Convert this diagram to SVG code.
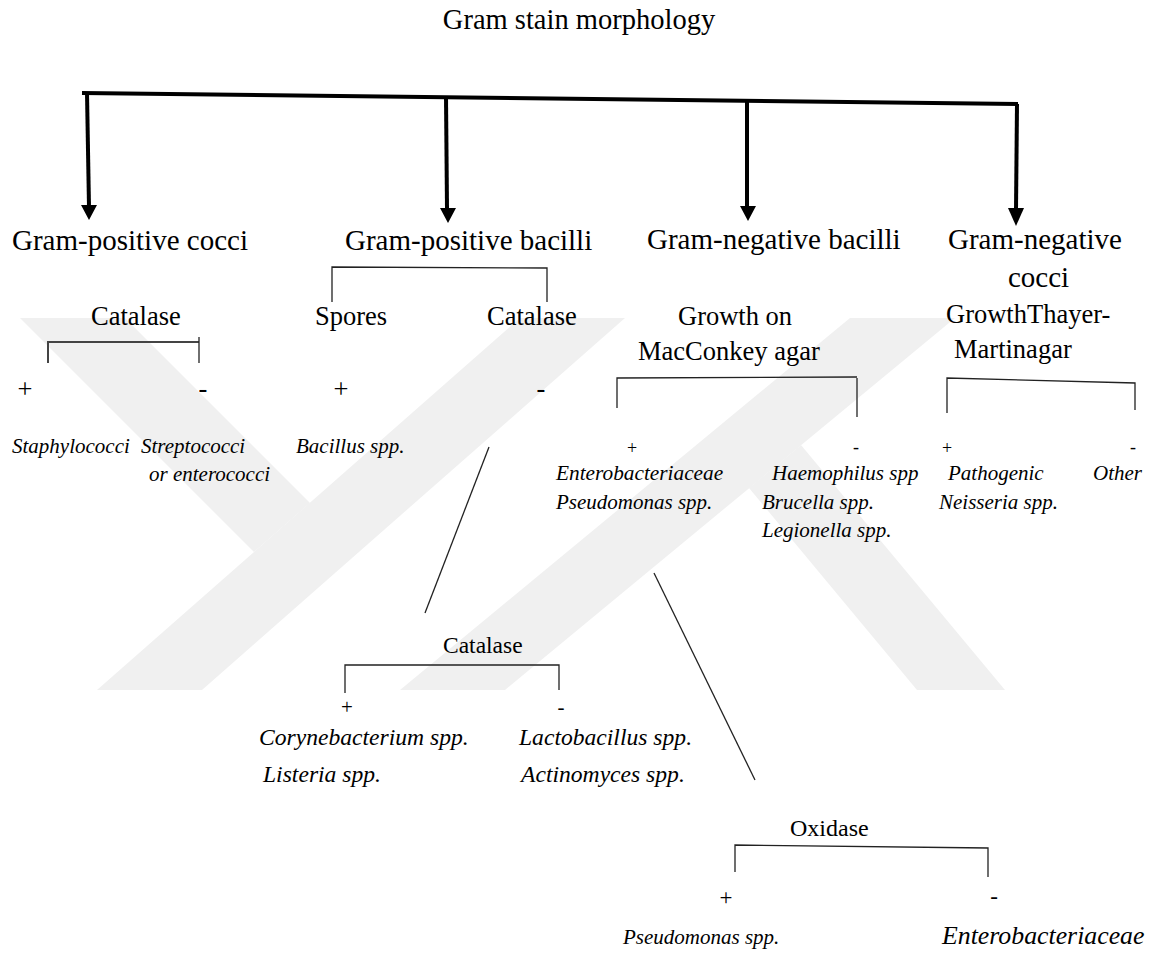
<svg xmlns="http://www.w3.org/2000/svg" width="1154" height="966" viewBox="0 0 1154 966">
<defs>
<style>
.t{font-family:"Liberation Serif","Times New Roman",serif;fill:#000}
.h1{font-size:29px}
.h2{font-size:26.5px}
.i{font-style:italic}
.m{text-anchor:middle}
.br{fill:none;stroke:#222;stroke-width:1.3}
.thick{fill:none;stroke:#000;stroke-width:4}
.wm{fill:#f0f0f0}
</style>
</defs>
<rect width="1154" height="966" fill="#fff"/>
<g id="watermark">
<polygon class="wm" points="520,318 625,318 202,690 97,690"/>
<polygon class="wm" points="20,318 125,318 310,503 254,552"/>
<polygon class="wm" points="850,318 955,318 505,690 400,690"/>
<polygon class="wm" points="801,445 1005,690 917,690 749,488"/>
</g>
<g id="connectors">
<path class="thick" d="M82,93 L1018,104"/>
<path class="thick" d="M87,93 L89,207"/>
<polygon points="81,205 97,205 89,220"/>
<path class="thick" d="M446,97 L447,209"/>
<polygon points="440,208 456,208 448,223"/>
<path class="thick" d="M747,100 L747,207"/>
<polygon points="740,206 756,206 748,221"/>
<path class="thick" d="M1017,104 L1016,210"/>
<polygon points="1008,208 1024,208 1016,226"/>
<path class="br" d="M332,302 V267 L547,268 V302"/>
<path d="M48,363 V342 H199" fill="none" stroke="#444" stroke-width="2"/>
<path class="br" d="M199,337 V363"/>
<path class="br" d="M617,408 V378 L857,377"/>
<path class="br" d="M857,378 V417"/>
<path class="br" d="M947,413 V378 L1135,383 V410"/>
<path class="br" d="M345,693 V665 H559 V690"/>
<path class="br" d="M735,872 V845 L988,848 V877"/>
<path class="br" d="M489,447 L425,613"/>
<path class="br" d="M654,573 L755,780"/>
</g>
<g id="title"><text class="t m" x="579" y="29" style="font-size:28.5px">Gram stain morphology</text></g>
<g id="gp-cocci">
<text class="t h1" x="12" y="250">Gram-positive cocci</text>
<text class="t h2" x="91" y="325">Catalase</text>
<text class="t h2 m" x="25" y="398">+</text>
<text class="t h2 m" x="203" y="397">-</text>
<text class="t i" x="12" y="453" style="font-size:21px">Staphylococci</text>
<text class="t i" x="141" y="453" style="font-size:21px">Streptococci</text>
<text class="t i" x="149" y="481" style="font-size:21px">or enterococci</text>
</g>
<g id="gp-bacilli">
<text class="t h1" x="345" y="250">Gram-positive bacilli</text>
<text class="t h2" x="315" y="325">Spores</text>
<text class="t h2" x="487" y="325">Catalase</text>
<text class="t h2 m" x="341" y="398">+</text>
<text class="t h2 m" x="541" y="397">-</text>
<text class="t i" x="296" y="453" style="font-size:21px">Bacillus spp.</text>
</g>
<g id="gp-bacilli-catalase">
<text class="t" x="443" y="653" style="font-size:23.5px">Catalase</text>
<text class="t m" x="347" y="714" style="font-size:21px">+</text>
<text class="t m" x="561" y="714" style="font-size:21px">-</text>
<text class="t i" x="259" y="745" style="font-size:23.6px">Corynebacterium spp.</text>
<text class="t i" x="263" y="782" style="font-size:23.6px">Listeria spp.</text>
<text class="t i" x="519" y="745" style="font-size:23.6px">Lactobacillus spp.</text>
<text class="t i" x="521" y="782" style="font-size:23.6px">Actinomyces spp.</text>
</g>
<g id="gn-bacilli">
<text class="t h1" x="647" y="249">Gram-negative bacilli</text>
<text class="t h2" x="678" y="325">Growth on</text>
<text class="t h2" x="638" y="360">MacConkey agar</text>
<text class="t m" x="632" y="454" style="font-size:18px">+</text>
<text class="t m" x="856" y="453" style="font-size:18px">-</text>
<text class="t i" x="556" y="480" style="font-size:21.3px">Enterobacteriaceae</text>
<text class="t i" x="556" y="509" style="font-size:21px">Pseudomonas spp.</text>
<text class="t i" x="772" y="480" style="font-size:21px">Haemophilus spp</text>
<text class="t i" x="762" y="509" style="font-size:21px">Brucella spp.</text>
<text class="t i" x="762" y="537" style="font-size:21px">Legionella spp.</text>
</g>
<g id="gn-bacilli-oxidase">
<text class="t" x="790" y="836" style="font-size:24px">Oxidase</text>
<text class="t m" x="726" y="905" style="font-size:23px">+</text>
<text class="t m" x="994" y="904" style="font-size:23px">-</text>
<text class="t i" x="623" y="944" style="font-size:21px">Pseudomonas spp.</text>
<text class="t i" x="942" y="944" style="font-size:25.8px">Enterobacteriaceae</text>
</g>
<g id="gn-cocci">
<text class="t h1" x="948" y="249">Gram-negative</text>
<text class="t h1" x="1008" y="287">cocci</text>
<text class="t h2" x="946" y="323">GrowthThayer-</text>
<text class="t h2" x="954" y="358">Martinagar</text>
<text class="t m" x="947" y="454" style="font-size:18px">+</text>
<text class="t m" x="1133" y="453" style="font-size:18px">-</text>
<text class="t i" x="948" y="480" style="font-size:21px">Pathogenic</text>
<text class="t i" x="939" y="509" style="font-size:21px">Neisseria spp.</text>
<text class="t i" x="1093" y="480" style="font-size:21px">Other</text>
</g>
</svg>
